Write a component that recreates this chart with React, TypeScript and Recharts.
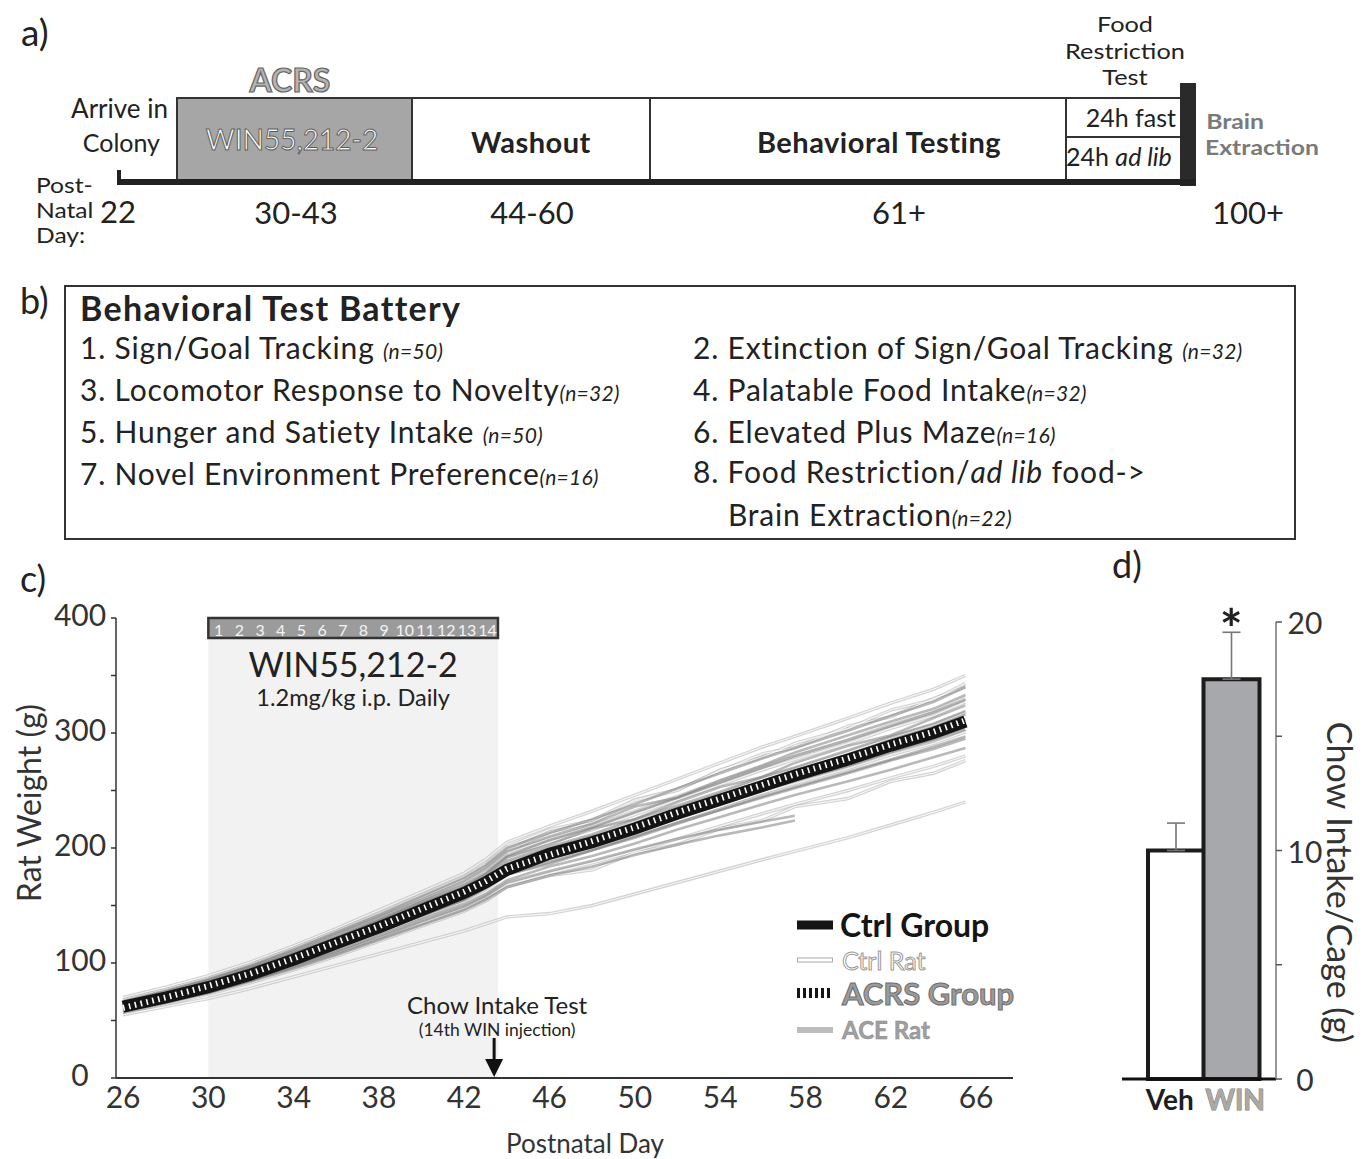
import React from 'react';
import {
  LineChart, Line, XAxis, YAxis, ReferenceArea, ReferenceDot, Legend, Label,
  BarChart, Bar, Cell, ErrorBar,
} from 'recharts';

const FONT = 'Lato, "Noto Sans", sans-serif';

// ---------- Panel c data (postnatal day, weight g) ----------
const DAYS = [26, 28, 30, 32, 34, 36, 38, 40, 42, 43, 44, 46, 48, 50, 52, 54, 56, 57.5, 60, 62, 64, 65.5];
const CTRL_GROUP = [62, 70, 79, 90, 103, 117, 131, 146, 161, 170, 181, 195, 205, 217, 230, 242, 254, 263, 277, 289, 300, 310];
const ACRS_GROUP = [61, 70, 80, 91, 104, 118, 132, 147, 162, 171, 182, 194, 206, 218, 231, 243, 255, 264, 278, 290, 301, 311];

const ACE_1 = [67, 76, 86, 98, 112, 127, 142, 158, 174, 185, 200, 213, 225, 238, 252, 265, 278, 287, 302, 315, 327, 340];
const ACE_2 = [64, 73, 83, 95, 108, 122, 137, 152, 166, 177, 192, 203, 217, 225, 240, 253, 262, 274, 289, 298, 313, 324];
const ACE_3 = [60, 68, 77, 88, 100, 113, 127, 141, 155, 165, 177, 186, 198, 210, 222, 233, 245, 253, 266, 277, 288, 297];
const ACE_4 = [57, 65, 74, 85, 97, 110, 124, 138, 151, 160, 172, 184, 193, 204, 216, 227, 238, 246, 258, 268, 279, 287];
const ACE_5 = [63, 71, 81, 93, 106, 120, 135, 150, 165, 175, 189, 201, 212, 225, 237, 249, 262, 270, 285, 297, 308, 319];
const ACE_6 = [61, 69, 78, 89, 102, 115, 129, 144, 158, 167, 180, 193, 202, 214, 226, 238, 250, 258, 271, 283, 294, 303];
const ACE_7 = [66, 75, 85, 97, 110, 125, 140, 155, 171, 182, 197, 210, 221, 236, 244, 259, 272, 283, 298, 310, 321, 333];
const ACE_8 = [58, 66, 74, 84, 95, 107, 120, 133, 146, 155, 166, 176, 184, 194, 203, 211, 218, 224, null, null, null, null];
const ACE_9 = [60, 68, 76, 86, 97, 109, 122, 136, 149, 158, 170, 180, 189, 199, 208, 216, 223, 228, null, null, null, null];
const ACE_10 = [62, 70, 80, 91, 104, 117, 131, 146, 161, 171, 186, 199, 209, 221, 234, 246, 258, 267, 281, 294, 305, 316];
const ACE_11 = [65, 74, 84, 96, 109, 123, 138, 153, 168, 178, 193, 207, 218, 231, 244, 257, 270, 280, 294, 306, 318, 329];
const ACE_12 = [59, 67, 76, 87, 100, 113, 127, 141, 155, 165, 178, 188, 198, 209, 221, 233, 244, 252, 265, 276, 286, 295];
const ACE_13 = [62, 70, 79, 90, 102, 116, 130, 145, 159, 169, 183, 196, 204, 219, 228, 244, 253, 265, 276, 291, 299, 312];
const ACE_14 = [63, 72, 81, 92, 105, 119, 133, 148, 163, 173, 186, 197, 210, 216, 233, 240, 257, 261, 280, 287, 303, 308];

const CTRL_1 = [70, 79, 89, 101, 115, 130, 146, 162, 178, 190, 205, 219, 232, 246, 260, 274, 288, 297, 313, 326, 338, 350];
const CTRL_2 = [55, 62, 69, 78, 88, 98, 108, 118, 128, 134, 140, 143, 150, 160, 170, 180, 190, 197, 209, 220, 231, 240];
const CTRL_3 = [64, 73, 83, 95, 109, 124, 139, 155, 171, 182, 197, 214, 222, 241, 250, 268, 279, 291, 304, 320, 329, 343];
const CTRL_4 = [60, 68, 77, 88, 101, 114, 128, 143, 157, 167, 181, 192, 203, 215, 228, 240, 252, 261, 274, 286, 297, 307];
const CTRL_5 = [58, 66, 75, 85, 97, 109, 122, 135, 148, 157, 168, 178, 187, 197, 208, 219, 230, 238, 250, 261, 271, 280];
const CTRL_6 = [62, 71, 81, 93, 106, 121, 136, 151, 166, 177, 192, 205, 216, 229, 242, 255, 268, 277, 291, 304, 315, 327];
const CTRL_7 = [68, 77, 87, 99, 113, 128, 143, 159, 175, 186, 201, 216, 224, 242, 251, 267, 282, 287, 306, 314, 330, 340];
const CTRL_8 = [61, 69, 78, 89, 101, 114, 128, 142, 156, 166, 179, 189, 200, 212, 224, 236, 248, 256, 269, 281, 291, 301];
const CTRL_9 = [63, 72, 82, 93, 106, 120, 134, 149, 163, 173, 187, 199, 210, 222, 235, 247, 260, 269, 283, 296, 307, 318];
const CTRL_10 = [57, 64, 73, 83, 94, 106, 119, 132, 145, 154, 166, 176, 181, 196, 203, 217, 224, 236, 243, 258, 265, 276];
const CTRL_11 = [66, 75, 85, 97, 110, 124, 139, 155, 170, 181, 196, 208, 219, 232, 245, 258, 271, 280, 294, 307, 318, 330];
const CTRL_12 = [59, 67, 76, 87, 99, 112, 126, 140, 154, 164, 177, 188, 199, 211, 224, 236, 248, 257, 270, 282, 293, 303];

const ACE_RATS = [ACE_1, ACE_2, ACE_3, ACE_4, ACE_5, ACE_6, ACE_7, ACE_8, ACE_9, ACE_10, ACE_11, ACE_12, ACE_13, ACE_14];
const CTRL_RATS = [CTRL_1, CTRL_2, CTRL_3, CTRL_4, CTRL_5, CTRL_6, CTRL_7, CTRL_8, CTRL_9, CTRL_10, CTRL_11, CTRL_12];

const X_TICKS = [26, 30, 34, 38, 42, 46, 50, 54, 58, 62, 66];
const Y_TICKS = [0, 50, 100, 150, 200, 250, 300, 350, 400];
const INJECTION_DAYS = ['1', '2', '3', '4', '5', '6', '7', '8', '9', '10', '11', '12', '13', '14'];

// ---------- Panel d data ----------
const BAR_GROUPS = ['Veh', 'WIN'];
const BAR_MEANS = [10, 17.5];
const BAR_SEM = [1.2, 2.05];
const BAR_FILLS = ['#ffffff', '#a7a8ab'];
const BAR_TICKS = [0, 5, 10, 15, 20];

const lineData = DAYS.map((day, i) => {
  const row: any = { day, ctrlGroup: CTRL_GROUP[i], acrsGroup: ACRS_GROUP[i] };
  ACE_RATS.forEach((r, k) => { row['ace' + k] = r[i]; });
  CTRL_RATS.forEach((r, k) => { row['ctrl' + k] = r[i]; });
  return row;
});

const barData = BAR_GROUPS.map((g, i) => ({ group: g, value: BAR_MEANS[i], err: [0, BAR_SEM[i]] }));

// ---------- helpers ----------
function T({ x, y, size, anchor = 'left', weight = 400, color = '#222', italic = false, sx = 1, style = {}, children }: any) {
  const tx = anchor === 'center' ? '-50%' : anchor === 'right' ? '-100%' : '0';
  const origin = anchor === 'center' ? 'center center' : anchor === 'right' ? 'right center' : 'left center';
  return (
    <div
      style={{
        position: 'absolute', left: x, top: y, transform: `translate(${tx}, -50%) scaleX(${sx})`, transformOrigin: origin,
        fontSize: size, fontWeight: weight, color, fontStyle: italic ? 'italic' : 'normal',
        lineHeight: 1, whiteSpace: 'nowrap', fontFamily: FONT, textAlign: anchor === 'center' ? 'center' : anchor === 'right' ? 'right' : 'left',
        ...style,
      }}
    >
      {children}
    </div>
  );
}

const N = ({ children }: any) => (
  <span style={{ fontStyle: 'italic', fontSize: 21, letterSpacing: 0.3 }}>{children}</span>
);

function Box({ x, y, w, h, style = {} }: any) {
  return <div style={{ position: 'absolute', left: x, top: y, width: w, height: h, boxSizing: 'border-box', ...style }} />;
}

const ITEM = { letterSpacing: 0.8 };

// ---------- Panel c custom labels ----------
const ShadeLabel = (props: any) => {
  const vb = props.viewBox;
  if (!vb) return null;
  const cx = vb.x + vb.width / 2;
  return (
    <g fontFamily={FONT} fill="#222">
      <text x={cx} y={vb.y + 45} textAnchor="middle" dominantBaseline="central" fontSize={34}>WIN55,212-2</text>
      <text x={cx} y={vb.y + 79} textAnchor="middle" dominantBaseline="central" fontSize={23.5}>1.2mg/kg i.p. Daily</text>
    </g>
  );
};

const HeaderLabel = (props: any) => {
  const vb = props.viewBox;
  if (!vb) return null;
  const step = vb.width / INJECTION_DAYS.length;
  return (
    <g fontFamily={FONT}>
      {INJECTION_DAYS.map((d, i) => (
        <text key={d} x={vb.x + step * (i + 0.5)} y={vb.y + vb.height / 2 + 1} textAnchor="middle"
          dominantBaseline="central" fontSize={16} fill="#f4f4f4">{d}</text>
      ))}
    </g>
  );
};

const ChowArrow = (props: any) => {
  const { cx, cy } = props;
  if (cx == null || cy == null) return null;
  return (
    <g fontFamily={FONT} fill="#222">
      <text x={cx + 3} y={cy - 74} textAnchor="middle" dominantBaseline="central" fontSize={24}>Chow Intake Test</text>
      <text x={cx + 3} y={cy - 49} textAnchor="middle" dominantBaseline="central" fontSize={17.5}>(14th WIN injection)</text>
      <line x1={cx} y1={cy - 40} x2={cx} y2={cy - 16} stroke="#111" strokeWidth={3} />
      <polygon points={`${cx - 9},${cy - 19} ${cx + 9},${cy - 19} ${cx},${cy - 1}`} fill="#111" />
    </g>
  );
};

const WeightTick = (props: any) => {
  const { x, y, payload } = props;
  if (payload.value % 100 !== 0) return null;
  return (
    <text x={x - 27} y={y - 4} textAnchor="middle" dominantBaseline="central" fontSize={30} fill="#333"
      fontFamily={FONT}>{payload.value}</text>
  );
};

const RatWeightTitle = (props: any) => {
  const vb = props.viewBox;
  if (!vb) return null;
  const cx = vb.x + 28, cy = vb.y + 185;
  return (
    <text x={cx} y={cy} transform={`rotate(-90, ${cx}, ${cy})`} textAnchor="middle" dominantBaseline="central"
      fontSize={32} fill="#333" fontFamily={FONT}>Rat Weight (g)</text>
  );
};

const DayTitle = (props: any) => {
  const vb = props.viewBox;
  if (!vb) return null;
  return (
    <text x={vb.x + 469} y={vb.y + 65} textAnchor="middle" dominantBaseline="central"
      fontSize={26} fill="#333" fontFamily={FONT}>Postnatal Day</text>
  );
};

const LegendC = () => {
  const row = (top: number, swatch: any, label: any) => (
    <div style={{ position: 'absolute', left: 0, top, height: 30, width: 250 }}>
      <div style={{ position: 'absolute', left: 7, top: 15, transform: 'translateY(-50%)', width: 36, ...swatch }} />
      {label}
    </div>
  );
  const lab = (style: any, text: string) => (
    <div style={{ position: 'absolute', left: 50, top: 15, transform: 'translateY(-50%)', lineHeight: 1, whiteSpace: 'nowrap', fontFamily: FONT, ...style }}>{text}</div>
  );
  return (
    <div style={{ position: 'relative', width: 250, height: 140 }}>
      {row(0, { height: 9, background: '#151515' }, lab({ fontSize: 32, fontWeight: 700, color: '#151515' }, 'Ctrl Group'))}
      {row(35, { height: 5, background: '#fff', border: '1px solid #aaa', boxSizing: 'border-box' },
        lab({ fontSize: 25, color: '#fff', WebkitTextStroke: '1px #9a9a9a', left: 52 }, 'Ctrl Rat'))}
      {row(68, { height: 10, background: 'repeating-linear-gradient(90deg, #151515 0 3px, #fff 3px 6px)' },
        lab({ fontSize: 31, fontWeight: 700, color: '#9b9b9b', WebkitTextStroke: '1px #6e6e6e', left: 52 }, 'ACRS Group'))}
      {row(105, { height: 6, background: '#bdbdbd' },
        lab({ fontSize: 24, fontWeight: 700, color: '#a0a0a0', WebkitTextStroke: '0.5px #888', left: 52 }, 'ACE Rat'))}
    </div>
  );
};

// ---------- Panel d custom pieces ----------
const BarTick = (props: any) => {
  const { x, y, payload } = props;
  const isWin = payload.value === 'WIN';
  return (
    <text x={x + (isWin ? 4 : -6)} y={y + 12} textAnchor="middle" dominantBaseline="central" fontSize={28} fontWeight={700}
      fontFamily={FONT} fill={isWin ? '#a9a9a9' : '#1e1e1e'} stroke={isWin ? '#7a7a7a' : 'none'} strokeWidth={1}
      paintOrder="stroke">{payload.value}</text>
  );
};

const IntakeTick = (props: any) => {
  const { x, y, payload } = props;
  if (payload.value % 10 !== 0) return null;
  return (
    <text x={x + 18} y={y} textAnchor="middle" dominantBaseline="central" fontSize={30} fill="#333"
      fontFamily={FONT}>{payload.value}</text>
  );
};

const ChowTitle = (props: any) => {
  const vb = props.viewBox;
  if (!vb) return null;
  const cx = vb.x + 64, cy = vb.y + vb.height / 2 + 32;
  return (
    <text x={cx} y={cy} transform={`rotate(90, ${cx}, ${cy})`} textAnchor="middle" dominantBaseline="central"
      fontSize={34} fill="#333" fontFamily={FONT}>Chow Intake/Cage (g)</text>
  );
};

export default function App() {
  return (
    <div style={{ position: 'absolute', left: 0, top: 0, width: 1368, height: 1159, background: '#fff', fontFamily: FONT, color: '#222', overflow: 'hidden' }}>
      {/* ---------------- Panel a ---------------- */}
      <T x={21} y={31} size={37}>a)</T>
      <T x={290} y={80} size={32} weight={700} color="#b4b4b4" anchor="center" style={{ WebkitTextStroke: '1.2px #666' }}>ACRS</T>
      <T x={168} y={125} size={26} anchor="right" style={{ lineHeight: '34px' }}>
        Arrive in<br /><span style={{ fontSize: 25, marginRight: 8 }}>Colony</span>
      </T>
      <Box x={176} y={97} w={237} h={85} style={{ background: '#a6a6a6', border: '2px solid #333' }} />
      <Box x={411} y={97} w={240} h={85} style={{ border: '2px solid #333', borderLeft: 'none' }} />
      <Box x={649} y={97} w={418} h={85} style={{ borderTop: '2px solid #333', borderBottom: '2px solid #333', borderLeft: '2px solid #333' }} />
      <Box x={1065} y={97} w={117} h={85} style={{ border: '2px solid #333', borderRight: 'none' }} />
      <Box x={1065} y={136} w={117} h={2} style={{ background: '#333' }} />
      <Box x={1180} y={83} w={16} h={103} style={{ background: '#2a2a2a' }} />
      <Box x={117} y={179} w={1079} h={6} style={{ background: '#222' }} />
      <Box x={117} y={170} w={4} h={14} style={{ background: '#222' }} />
      <T x={292} y={139} size={28} anchor="center" color="#ffffff" style={{ WebkitTextStroke: '1px #5e5e5e' }}>WIN55,212-2</T>
      <T x={531} y={141} size={29} weight={700} anchor="center" style={{ letterSpacing: 0.5 }}>Washout</T>
      <T x={879} y={141} size={29} weight={700} anchor="center" style={{ letterSpacing: 0.5 }}>Behavioral Testing</T>
      <T x={1176} y={117} size={25} anchor="right">24h fast</T>
      <T x={1066} y={156} size={25}>24h <i>ad lib</i></T>
      <T x={1125} y={51} size={22} sx={1.15} anchor="center" style={{ lineHeight: '26.6px' }}>
        Food<br />Restriction<br />Test
      </T>
      <T x={1205} y={134} size={21.5} sx={1.15} weight={700} color="#7a7a7a" style={{ lineHeight: '26px' }}>
        <span style={{ marginLeft: 1 }}>Brain</span><br />Extraction
      </T>
      <T x={36} y={210} size={20.5} sx={1.2} style={{ lineHeight: '25px' }}>
        Post-<br />Natal<br />Day:
      </T>
      <T x={100} y={211} size={31}>22</T>
      <T x={296} y={212} size={31} anchor="center">30-43</T>
      <T x={532} y={212} size={31} anchor="center">44-60</T>
      <T x={899} y={212} size={31} anchor="center">61+</T>
      <T x={1248} y={212} size={31} anchor="center">100+</T>

      {/* ---------------- Panel b ---------------- */}
      <T x={20} y={300} size={36}>b)</T>
      <Box x={64} y={285} w={1232} h={255} style={{ border: '2px solid #333' }} />
      <T x={80} y={308} size={34} weight={700} style={{ letterSpacing: 1.3 }}>Behavioral Test Battery</T>
      <T x={80} y={347} size={30} style={ITEM}>1. Sign/Goal Tracking <N>(n=50)</N></T>
      <T x={80} y={389} size={30} style={ITEM}>3. Locomotor Response to Novelty<N>(n=32)</N></T>
      <T x={80} y={431} size={30} style={ITEM}>5. Hunger and Satiety Intake <N>(n=50)</N></T>
      <T x={80} y={473} size={30} style={ITEM}>7. Novel Environment Preference<N>(n=16)</N></T>
      <T x={693} y={347} size={30} style={ITEM}>2. Extinction of Sign/Goal Tracking <N>(n=32)</N></T>
      <T x={693} y={389} size={30} style={ITEM}>4. Palatable Food Intake<N>(n=32)</N></T>
      <T x={693} y={431} size={30} style={ITEM}>6. Elevated Plus Maze<N>(n=16)</N></T>
      <T x={693} y={494} size={30} style={{ ...ITEM, lineHeight: '43px' }}>
        8. Food Restriction/<i>ad lib</i> food-&gt;<br />
        <span style={{ marginLeft: 35 }}>Brain Extraction<N>(n=22)</N></span>
      </T>

      {/* ---------------- Panel c ---------------- */}
      <T x={20} y={578} size={36}>c)</T>
      <div style={{ position: 'absolute', left: 0, top: 590 }}>
        <LineChart width={1050} height={570} data={lineData} margin={{ top: 28, right: 37, bottom: 0, left: 0 }}>
          <ReferenceArea x1={30} x2={43.58} y1={0} y2={400} fill="#f2f2f2" fillOpacity={1} stroke="none"
            ifOverflow="visible" zIndex={-50} label={ShadeLabel} />
          <XAxis type="number" dataKey="day" domain={[25.67, 67.73]} allowDataOverflow ticks={X_TICKS} interval={0}
            height={82} tickLine={false} tickSize={6} tickMargin={3} axisLine={{ stroke: '#333', strokeWidth: 2 }}
            tick={{ fill: '#333', fontSize: 30, fontFamily: FONT }}>
            <Label content={DayTitle} />
          </XAxis>
          <YAxis type="number" domain={[0, 400]} ticks={Y_TICKS} interval={0} width={116}
            tickSize={5} tickMargin={4} axisLine={{ stroke: '#333', strokeWidth: 1.5 }} tickLine={{ stroke: '#333', strokeWidth: 1.5 }}
            tick={WeightTick}>
            <Label content={RatWeightTitle} />
          </YAxis>
          {CTRL_RATS.map((_, k) => (
            <Line key={'co' + k} dataKey={'ctrl' + k} stroke="#a8a8a8" strokeOpacity={0.5} strokeWidth={3.4}
              dot={false} activeDot={false} legendType="none" isAnimationActive={false} />
          ))}
          {CTRL_RATS.map((_, k) => (
            <Line key={'ci' + k} dataKey={'ctrl' + k} stroke="#ffffff" strokeOpacity={0.75} strokeWidth={1.2}
              dot={false} activeDot={false} legendType="none" isAnimationActive={false} />
          ))}
          {ACE_RATS.map((_, k) => (
            <Line key={'a' + k} dataKey={'ace' + k} stroke="#808080" strokeOpacity={0.55} strokeWidth={2.6}
              dot={false} activeDot={false} legendType="none" isAnimationActive={false} />
          ))}
          <Line dataKey="ctrlGroup" stroke="#141414" strokeWidth={12} dot={false} activeDot={false}
            legendType="none" isAnimationActive={false} />
          <Line dataKey="acrsGroup" stroke="#ffffff" strokeWidth={6} strokeDasharray="1.6 4.4" dot={false}
            activeDot={false} legendType="none" isAnimationActive={false} />
          <ReferenceArea x1={30} x2={43.58} y1={382.6} y2={400} fill="#9b9b9b" fillOpacity={1} stroke="#333"
            strokeWidth={2.5} ifOverflow="visible" zIndex={600} label={HeaderLabel} />
          <ReferenceDot x={43.4} y={0} r={0} ifOverflow="visible" zIndex={700} shape={ChowArrow} />
          <Legend layout="horizontal" verticalAlign="middle" align="center" content={LegendC}
            wrapperStyle={{ left: 790, top: 320, width: 250, height: 140 }} />
        </LineChart>
      </div>

      {/* ---------------- Panel d ---------------- */}
      <T x={1112} y={564} size={36}>d)</T>
      <div style={{ position: 'absolute', left: 1100, top: 590 }}>
        <BarChart width={268} height={569} data={barData} margin={{ top: 32, right: 0, bottom: 0, left: 22 }}
          barCategoryGap={0} barGap={0}>
          <XAxis dataKey="group" padding={{ left: 26, right: 17 }} height={80} interval={0} tickLine={false}
            axisLine={{ stroke: '#111', strokeWidth: 3 }} tick={BarTick} />
          <YAxis orientation="right" type="number" domain={[0, 20]} ticks={BAR_TICKS} interval={0} width={92}
            tickSize={6} tickMargin={5}
            axisLine={{ stroke: '#777', strokeWidth: 1.5 }} tickLine={{ stroke: '#555', strokeWidth: 1.5 }}
            tick={IntakeTick}>
            <Label content={ChowTitle} />
          </YAxis>
          <Bar dataKey="value" stroke="#1c1c1c" strokeWidth={4} isAnimationActive={false}>
            {barData.map((d, i) => <Cell key={d.group} fill={BAR_FILLS[i]} />)}
            <ErrorBar dataKey="err" direction="y" width={9} stroke="#777" strokeWidth={1.6} />
          </Bar>
          <ReferenceDot x="WIN" y={19.7} r={0} ifOverflow="visible"
            label={{ value: '*', position: 'center', fontSize: 54, fontWeight: 700, fill: '#222', fontFamily: FONT }} />
        </BarChart>
      </div>
    </div>
  );
}
